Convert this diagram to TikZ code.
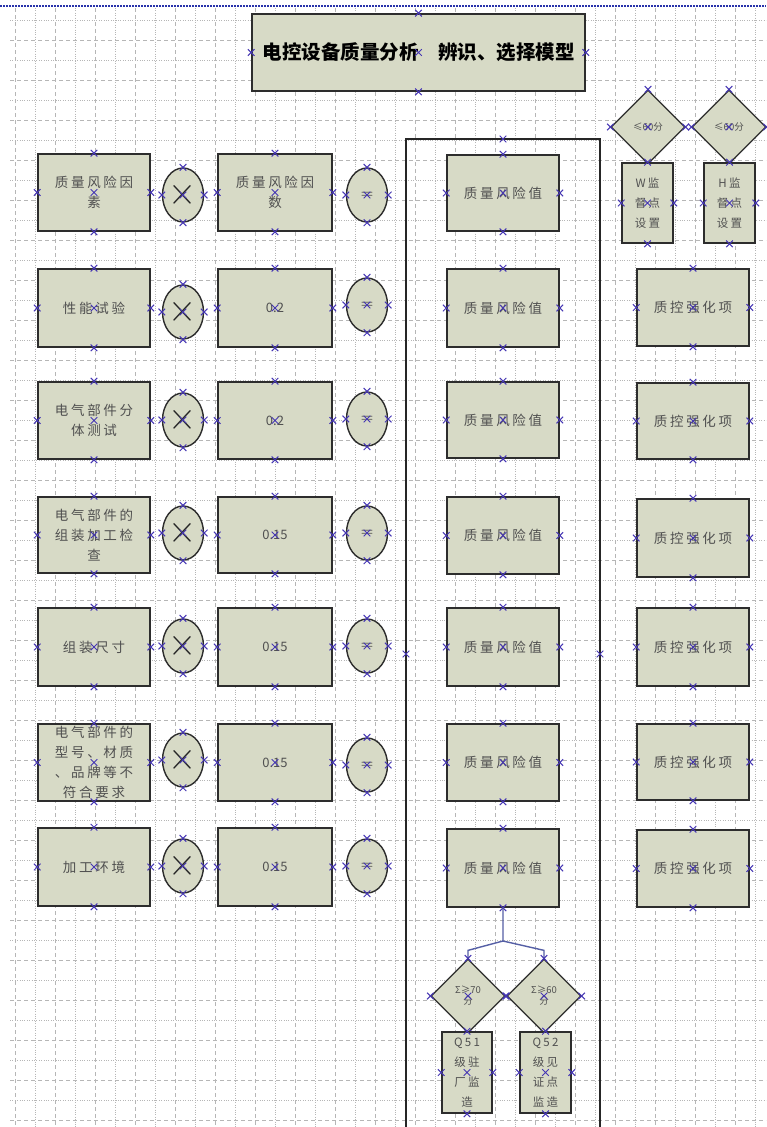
\documentclass[tikz,border=0pt]{standalone}
\usepackage{fontspec}
\usepackage{graphicx}
\newfontfamily\cjk[LetterSpace=20]{Noto Sans CJK SC}
\newfontfamily\cjkt{Noto Sans CJK SC}
\usetikzlibrary{shapes.geometric,calc}
\definecolor{boxfill}{RGB}{215,218,198}
\definecolor{boxline}{RGB}{45,45,45}
\definecolor{txt}{RGB}{80,80,80}
\definecolor{cpblue}{RGB}{70,55,180}
\definecolor{connc}{RGB}{85,95,165}
\definecolor{gridc}{RGB}{182,182,182}
\definecolor{pageline}{RGB}{40,50,170}
\tikzset{
 qbox/.style={rectangle, draw=boxline, fill=boxfill, line width=1.6pt, inner sep=0pt,
   align=center, text=txt, font=\cjk\fontsize{13.5}{20}\selectfont},
 smalltxt/.style={font=\cjk\fontsize{11.5}{20}\selectfont},
 numtxt/.style={font=\cjkt\fontsize{13}{20}\selectfont},
 titlebox/.style={font=\cjkt\bfseries\fontsize{19.5}{22}\selectfont, text=black},
 oval/.style={ellipse, draw=boxline, fill=boxfill, line width=1.4pt, minimum width=41pt,
   minimum height=54pt, inner sep=0pt, text=black!85},
 dia/.style={diamond, draw=boxline, fill=boxfill, line width=1.3pt, minimum width=74pt,
   minimum height=74pt, inner sep=0pt, align=center, text=txt, font=\cjkt\fontsize{9.5}{11}\selectfont},
 cp/.style={draw=cpblue, line width=1pt},
 conn/.style={draw=connc, line width=1.4pt},
 framebox/.style={draw=black!85, line width=1.4pt},
 gdot/.style={draw=gridc, line width=0.5pt, dash pattern=on 0.8pt off 1.6pt},
 gdash/.style={draw=gridc, line width=0.5pt, dash pattern=on 4pt off 3pt},
}
\newcommand\cpmarks[1]{\foreach \an in {north,south,east,west,center}{\draw[cp] (#1.\an) +(-3.3,-3.3) -- +(3.3,3.3) +(-3.3,3.3) -- +(3.3,-3.3);}}
\newcommand\cpmk[1]{\draw[cp] (#1) +(-3.3,-3.3) -- +(3.3,3.3) +(-3.3,3.3) -- +(3.3,-3.3);}
\newcommand\rbox[7][]{%
 \pgfmathsetmacro\rbW{#5-#3}\pgfmathsetmacro\rbH{#6-#4}%
 \pgfmathsetmacro\rbX{(#3+#5)/2}\pgfmathsetmacro\rbY{(#4+#6)/2}%
 \node[qbox,#1,minimum width=\rbW pt,minimum height=\rbH pt] (#2) at (\rbX,\rbY) {#7};%
 \cpmarks{#2}}
\newcommand\timesoval[3]{\node[oval] (#1) at (#2,#3) {\fontsize{24.88}{25}\selectfont\scalebox{1.45}[1.55]{$\times$}}; \cpmarks{#1}}
\newcommand\eqoval[3]{\node[oval] (#1) at (#2,#3) {\fontsize{17.28}{17}\selectfont$=$}; \cpmarks{#1}}
\begin{document}
\begin{tikzpicture}[x=1pt,y=-1pt]
\useasboundingbox[fill=white] (0,0) rectangle (766,1127);
% grid
\foreach \x in {35,75,...,755} \draw[gdot] (\x,8) -- (\x,1127);
\foreach \x in {15,55,...,735} \draw[gdash] (\x,8) -- (\x,1127);
\foreach \y in {20,60,...,1100} \draw[gdot] (10,\y) -- (766,\y);
\foreach \y in {40,80,...,1120} \draw[gdash] (10,\y) -- (766,\y);
\draw[pageline, line width=1.2pt, dash pattern=on 2pt off 1pt] (0,6) -- (766,6);
% frame
\coordinate (fT) at (503,139);
\coordinate (fL) at (406,654);
\coordinate (fR) at (600,654);
\draw[framebox] (406,1135) -- (406,139) -- (600,139) -- (600,1135);
\cpmk{fT}\cpmk{fL}\cpmk{fR}
% title
\rbox[titlebox]{title}{252}{14}{585}{91}{电控设备质量分析　辨识、选择模型}
% column A
\rbox{a1}{38}{154}{150}{231}{质量风险因\\素}
\rbox{a2}{38}{269}{150}{347}{性能试验}
\rbox{a3}{38}{382}{150}{459}{电气部件分\\体测试}
\rbox{a4}{38}{497}{150}{573}{电气部件的\\组装加工检\\查}
\rbox{a5}{38}{608}{150}{686}{组装尺寸}
\rbox{a6}{38}{724}{150}{801}{电气部件的\\型号、材质\\、品牌等不\\符合要求}
\rbox{a7}{38}{828}{150}{906}{加工环境}
% multiply ovals
\timesoval{m1}{183}{195}
\timesoval{m2}{183}{312}
\timesoval{m3}{183}{420}
\timesoval{m4}{183}{533}
\timesoval{m5}{183}{646}
\timesoval{m6}{183}{760}
\timesoval{m7}{183}{866}
% column B
\rbox{b1}{218}{154}{332}{231}{质量风险因\\数}
\rbox[numtxt]{b2}{218}{269}{332}{347}{0.2}
\rbox[numtxt]{b3}{218}{382}{332}{459}{0.2}
\rbox[numtxt]{b4}{218}{497}{332}{573}{0.15}
\rbox[numtxt]{b5}{218}{608}{332}{686}{0.15}
\rbox[numtxt]{b6}{218}{724}{332}{801}{0.15}
\rbox[numtxt]{b7}{218}{828}{332}{906}{0.15}
% equal ovals
\eqoval{e1}{367}{195}
\eqoval{e2}{367}{305}
\eqoval{e3}{367}{419}
\eqoval{e4}{367}{533}
\eqoval{e5}{367}{646}
\eqoval{e6}{367}{765}
\eqoval{e7}{367}{866}
% column C
\rbox{c1}{447}{155}{559}{231}{质量风险值}
\rbox{c2}{447}{269}{559}{347}{质量风险值}
\rbox{c3}{447}{382}{559}{458}{质量风险值}
\rbox{c4}{447}{497}{559}{574}{质量风险值}
\rbox{c5}{447}{608}{559}{686}{质量风险值}
\rbox{c6}{447}{724}{559}{801}{质量风险值}
\rbox{c7}{447}{829}{559}{907}{质量风险值}
% column D
\rbox{d2}{637}{269}{749}{346}{质控强化项}
\rbox{d3}{637}{383}{749}{459}{质控强化项}
\rbox{d4}{637}{499}{749}{577}{质控强化项}
\rbox{d5}{637}{608}{749}{686}{质控强化项}
\rbox{d6}{637}{724}{749}{800}{质控强化项}
\rbox{d7}{637}{830}{749}{907}{质控强化项}
% top right decisions
\node[dia] (tw) at (648,127) {≤60分}; \cpmarks{tw}
\node[dia] (th) at (729,127) {≤60分}; \cpmarks{th}
\rbox[smalltxt]{wbox}{622}{163}{673}{243}{W监\\督点\\设置}
\rbox[smalltxt]{hbox}{704}{163}{755}{243}{H监\\督点\\设置}
% bottom decisions
\coordinate (br) at (503,941);
\node[dia] (q1d) at (468,996) {Σ≥70\\分};
\node[dia] (q2d) at (544,996) {Σ≥60\\分};
\draw[conn] (c7.south) -- (br) -- ($(q1d.north)+(0,-8)$) -- (q1d.north);
\draw[conn] (br) -- ($(q2d.north)+(0,-8)$) -- (q2d.north);
\cpmarks{q1d}\cpmarks{q2d}
\rbox[smalltxt]{q1}{442}{1032}{492}{1113}{Q51\\级驻\\厂监\\造}
\rbox[smalltxt]{q2}{520}{1032}{571}{1113}{Q52\\级见\\证点\\监造}
\end{tikzpicture}
\end{document}
